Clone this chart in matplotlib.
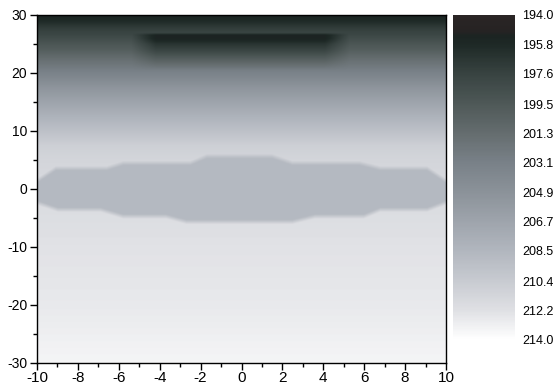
import numpy as np
import matplotlib.pyplot as plt
from matplotlib.colors import LinearSegmentedColormap

plt.rcParams['font.family'] = ['Liberation Sans', 'DejaVu Sans']
plt.rcParams['font.size'] = 9
plt.rcParams['axes.unicode_minus'] = False

# colour scale
cbar_vals = [194.0, 194.9, 195.3, 195.8, 197.6, 199.5, 201.3, 203.1, 204.9, 206.7, 208.5, 210.4, 212.2, 214.0]
cbar_cols = ['#2a2525', '#262323', '#1b2422', '#1e2926', '#384341', '#4f5958', '#656d6f',
             '#798188', '#8b9299', '#9ea4ac', '#b1b6be', '#c8cbd1', '#dfe0e4', '#ffffff']
cbar_ticks = [194.0, 195.8, 197.6, 199.5, 201.3, 203.1, 204.9, 206.7, 208.5, 210.4, 212.2, 214.0]

# background vertical profile (y -> value)
prof_y = [-30, -20, -10, -5, 0, 5, 7.5, 10, 12.5, 15, 17.5, 20, 22, 24, 26, 28, 29, 30]
prof_v = [213.4, 212.7, 212.3, 212.0, 211.7, 211.3, 210.8, 209.5, 208.2, 206.7, 205.2,
          203.3, 201.8, 200.0, 198.5, 197.0, 195.9, 195.3]

# central plateau (blob) outline and value
blob_top_x = [-10, -9.1, -6.6, -5.8, -2.5, -1.7, 1.5, 2.5, 5.8, 6.8, 9.1, 10]
blob_top_y = [1.5, 3.6, 3.6, 4.5, 4.5, 5.7, 5.7, 4.5, 4.5, 3.6, 3.6, 1.5]
blob_bot_x = [-10, -9.0, -6.9, -5.8, -3.7, -2.7, 2.5, 3.6, 6.0, 6.8, 9.1, 10]
blob_bot_y = [-2.4, -3.6, -3.6, -4.75, -4.75, -5.7, -5.7, -4.75, -4.75, -3.6, -3.6, -2.4]
blob_val = 208.8

# dark band near the top
band_x = [-5.4, 5.3]
band_y = [20.5, 23.0, 25.0, 26.0, 26.6, 27.0]
band_w = [0, 0.3, 0.65, 1, 1, 0]
band_val = 195.3

xs = np.linspace(-10, 10, 401)
ys = np.linspace(-30, 30, 601)
X, Y = np.meshgrid(xs, ys)

Z = np.interp(Y, prof_y, prof_v)

top = np.interp(X, blob_top_x, blob_top_y)
bot = np.interp(X, blob_bot_x, blob_bot_y)
w = np.clip((top - Y) / 0.8 + 0.5, 0, 1) * np.clip((Y - bot) / 0.8 + 0.5, 0, 1)
Z = Z * (1 - w) + blob_val * w

wx = np.clip((X - band_x[0]) / 1.2, 0, 1) * np.clip((band_x[1] - X) / 1.2, 0, 1)
wb = wx * np.interp(Y, band_y, band_w)
Z = Z * (1 - wb) + band_val * wb

pos = [(v - 194.0) / 20.0 for v in cbar_vals]
cmap = LinearSegmentedColormap.from_list('grey_map', list(zip(pos, cbar_cols)))

fig = plt.figure(figsize=(5.55, 3.9), dpi=100)
ax = fig.add_axes([37 / 555, 1 - 363 / 390, 409 / 555, 348 / 390])
im = ax.imshow(Z, extent=[-10, 10, -30, 30], origin='lower', aspect='auto',
               cmap=cmap, vmin=194, vmax=214, interpolation='bilinear')

ax.set_xlim(-10, 10)
ax.set_ylim(-30, 30)
ax.set_xticks(np.arange(-10, 11, 2))
ax.set_xticks(np.arange(-9, 10, 2), minor=True)
ax.set_yticks(np.arange(-30, 31, 10))
ax.set_yticks(np.arange(-25, 30, 10), minor=True)
ax.tick_params(which='major', direction='out', length=5, width=1, pad=2)
ax.tick_params(which='minor', direction='out', length=3, width=1)
ax.tick_params(axis='x', which='major', labelsize=11, pad=1)
ax.tick_params(axis='y', which='major', labelsize=10)
for s in ax.spines.values():
    s.set_linewidth(1)

cax = fig.add_axes([453 / 555, 1 - 340 / 390, 62 / 555, 325 / 390])
cb = fig.colorbar(im, cax=cax, ticks=cbar_ticks)
cb.outline.set_visible(False)
cax.invert_yaxis()
cax.set_yticklabels([f'{t:.1f}' for t in cbar_ticks])
cax.tick_params(length=0, pad=5, labelsize=9)

fig.savefig('out.png', dpi=100)
